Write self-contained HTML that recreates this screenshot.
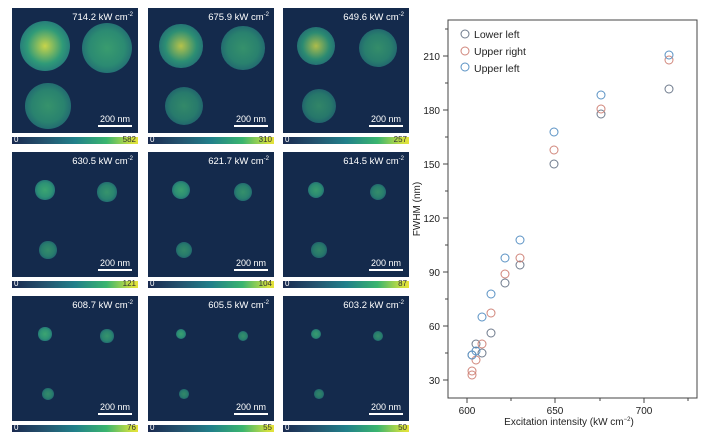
<!DOCTYPE html>
<html><head><style>
body{margin:0;width:704px;height:439px;background:#fff;position:relative;overflow:hidden;font-family:"Liberation Sans",sans-serif}
.p{position:absolute;width:126px;height:125px;background:#142a4c;overflow:hidden}
.t{position:absolute;right:5px;top:4px;color:#fff;font-size:9.5px}
.t sup{font-size:6px}
.sb{position:absolute;right:6px;bottom:6px;color:#fff;font-size:9px;text-align:center;width:34px;border-bottom:2px solid #fff;padding-bottom:1px}
.b{position:absolute;border-radius:50%}
.cb{position:absolute;width:126px;height:7px;background:linear-gradient(90deg,#1a2a50,#24526e 25%,#21808a 50%,#3ab56f 75%,#d0e040 95%,#e6e23a)}
.cb span{position:absolute;top:-2px;font-size:8px;line-height:10px;color:#333}
</style></head><body>
<div id="c"></div>
<svg width="704" height="439" style="position:absolute;left:0;top:0" font-family="Liberation Sans, sans-serif">
<rect x="448" y="20" width="249" height="378" fill="none" stroke="#444" stroke-width="1"/>
<g stroke="#444" font-size="11" fill="#222">
<line x1="443" y1="56" x2="448" y2="56"/><line x1="443" y1="110" x2="448" y2="110"/><line x1="443" y1="164" x2="448" y2="164"/><line x1="443" y1="218" x2="448" y2="218"/><line x1="443" y1="272" x2="448" y2="272"/><line x1="443" y1="326" x2="448" y2="326"/><line x1="443" y1="380" x2="448" y2="380"/>
<line x1="445" y1="29" x2="448" y2="29"/><line x1="445" y1="83" x2="448" y2="83"/><line x1="445" y1="137" x2="448" y2="137"/><line x1="445" y1="191" x2="448" y2="191"/><line x1="445" y1="245" x2="448" y2="245"/><line x1="445" y1="299" x2="448" y2="299"/><line x1="445" y1="353" x2="448" y2="353"/>
<line x1="467" y1="398" x2="467" y2="403"/><line x1="555" y1="398" x2="555" y2="403"/><line x1="644" y1="398" x2="644" y2="403"/>
<line x1="511" y1="398" x2="511" y2="401"/><line x1="600" y1="398" x2="600" y2="401"/><line x1="688" y1="398" x2="688" y2="401"/>
</g>
<g font-size="10" fill="#222" text-anchor="end">
<text x="440" y="60">210</text><text x="440" y="114">180</text><text x="440" y="168">150</text><text x="440" y="222">120</text><text x="440" y="276">90</text><text x="440" y="330">60</text><text x="440" y="384">30</text>
</g>
<g font-size="10" fill="#222" text-anchor="middle">
<text x="467" y="414">600</text><text x="555" y="414">650</text><text x="644" y="414">700</text>
<text x="569" y="425">Excitation intensity (kW cm<tspan font-size="6" dy="-4">−2</tspan><tspan dy="4">)</tspan></text>
<text transform="translate(420 209) rotate(-90)">FWHM (nm)</text>
</g>
<g fill="none" stroke-width="1">
<g stroke="#6e7a8c">
<circle cx="465" cy="34" r="4"/>
<circle cx="669" cy="89" r="4"/><circle cx="601" cy="114" r="4"/><circle cx="554" cy="164" r="4"/><circle cx="520" cy="265" r="4"/><circle cx="505" cy="283" r="4"/><circle cx="491" cy="333" r="4"/><circle cx="482" cy="353" r="4"/><circle cx="476" cy="344" r="4"/><circle cx="472" cy="355" r="4"/>
</g>
<g stroke="#d0857a">
<circle cx="465" cy="51" r="4"/>
<circle cx="669" cy="60" r="4"/><circle cx="601" cy="109" r="4"/><circle cx="554" cy="150" r="4"/><circle cx="520" cy="258" r="4"/><circle cx="505" cy="274" r="4"/><circle cx="491" cy="313" r="4"/><circle cx="482" cy="344" r="4"/><circle cx="476" cy="360" r="4"/><circle cx="472" cy="371" r="4"/><circle cx="472" cy="375" r="4"/>
</g>
<g stroke="#5a92c4">
<circle cx="465" cy="67" r="4"/>
<circle cx="669" cy="55" r="4"/><circle cx="601" cy="95" r="4"/><circle cx="554" cy="132" r="4"/><circle cx="520" cy="240" r="4"/><circle cx="505" cy="258" r="4"/><circle cx="491" cy="294" r="4"/><circle cx="482" cy="317" r="4"/><circle cx="476" cy="351" r="4"/><circle cx="472" cy="355" r="4"/>
</g>
</g>
<g font-size="10.5" fill="#222"><text x="474" y="38">Lower left</text><text x="474" y="55">Upper right</text><text x="474" y="72">Upper left</text></g>
</svg>
<script>
var d=[["714.2","582",21,1],["675.9","310",18,.85],["649.6","257",16,.8],["630.5","121",8,.9],["621.7","104",7.5,.85],["614.5","87",7,.8],["608.7","76",5.5,.9],["605.5","55",4.5,.85],["603.2","50",4.5,.8]];
var xs=[12,148,283],ys=[8,152,296],h="";
d.forEach(function(e,i){var x=xs[i%3],y=ys[Math.floor(i/3)],r=e[2],a=e[3];
h+='<div class="p" style="left:'+x+'px;top:'+y+'px">';
[[33,38,1],[95,40,.8],[36,98,.7]].forEach(function(b){var rr=r*(b[2]>.75?1:.9);
var c=b[2]==1&&i<3?'#c8d44a':'#3fae74';
h+='<div class="b" style="left:'+(b[0]-rr*1.2)+'px;top:'+(b[1]-rr*1.2)+'px;width:'+rr*2.4+'px;height:'+rr*2.4+'px;background:radial-gradient(circle,'+c+' 0%,#2f9a78 50%,#277f7a 70%,rgba(20,42,76,0) 84%);opacity:'+(a*b[2]*.7+.3)+'"></div>'});
h+='<div class="t">'+e[0]+' kW cm<sup>-2</sup></div><div class="sb">200 nm</div></div>';
h+='<div class="cb" style="left:'+x+'px;top:'+(y+129)+'px"><span style="left:2px;color:#fff">0</span><span style="right:2px">'+e[1]+'</span></div>';});
document.getElementById("c").innerHTML=h;
</script>
</body></html>
